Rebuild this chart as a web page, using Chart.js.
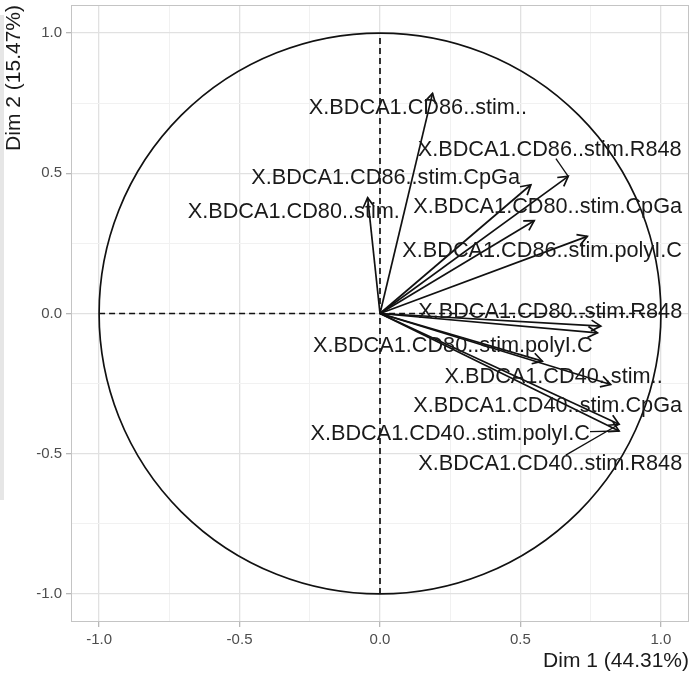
<!DOCTYPE html>
<html>
<head>
<meta charset="utf-8">
<title>PCA - variables</title>
<script src="https://cdn.jsdelivr.net/npm/chart.js@4.4.0/dist/chart.umd.min.js"></script>
<style>
  html, body { margin: 0; padding: 0; background: #fff; }
  #wrap { position: relative; width: 700px; height: 676px; }
  #edge { position: absolute; left: 0; top: 15px; width: 4px; height: 485px; background: #e6e6e6; }
</style>
</head>
<body>
<div id="wrap">
  <canvas id="pcaChart" width="700" height="676"></canvas>
  <div id="edge"></div>
</div>
<script>
    // variables (arrows) of the correlation circle
    const varNames = [
        "X.BDCA1.CD86..stim..",
        "X.BDCA1.CD86..stim.R848",
        "X.BDCA1.CD86..stim.CpGa",
        "X.BDCA1.CD80..stim.",
        "X.BDCA1.CD80..stim.CpGa",
        "X.BDCA1.CD86..stim.polyI.C",
        "X.BDCA1.CD80..stim.R848",
        "X.BDCA1.CD80..stim.polyI.C",
        "X.BDCA1.CD40..stim..",
        "X.BDCA1.CD40..stim.CpGa",
        "X.BDCA1.CD40..stim.polyI.C",
        "X.BDCA1.CD40..stim.R848"
    ];
    const dim1 = [0.187, 0.670, 0.537, -0.044, 0.549, 0.738, 0.786, 0.774, 0.578, 0.821, 0.851, 0.851];
    const dim2 = [0.785, 0.489, 0.459, 0.413, 0.331, 0.275, -0.045, -0.069, -0.170, -0.253, -0.419, -0.395];

    // where the (repelled) labels sit, in the same units
    const labelDim1 = [0.135, 0.604, 0.020, -0.307, 0.597, 0.577, 0.606, 0.259, 0.618, 0.597, 0.250, 0.606];
    const labelDim2 = [0.733, 0.584, 0.484, 0.363, 0.381, 0.221, 0.004, -0.117, -0.228, -0.331, -0.431, -0.537];

    // axis breaks (labels only on the half steps)
    const axisBreaks = [-1, -0.75, -0.5, -0.25, 0, 0.25, 0.5, 0.75, 1];
    const xTitle = "Dim 1 (44.31%)";
    const yTitle = "Dim 2 (15.47%)";

    const family = '"Liberation Sans", Arial, Helvetica, sans-serif';

    function isMajor(v) {
        return Math.abs(v * 2 - Math.round(v * 2)) < 1e-6;
    }

    /** Circulo, flechas, etiquetas y borde del panel */
    const pcaDecor = {
        id: 'pcaDecor',
        beforeDatasetsDraw(chart) {
            const { ctx, chartArea, scales: { x, y } } = chart;
            ctx.save();
            // panel border
            ctx.strokeStyle = '#c4c4c4';
            ctx.lineWidth = 1;
            ctx.strokeRect(chartArea.left + 0.5, chartArea.top + 0.5,
                chartArea.right - chartArea.left - 1, chartArea.bottom - chartArea.top - 1);
            // unit circle
            const cx = x.getPixelForValue(0), cy = y.getPixelForValue(0);
            const rx = x.getPixelForValue(1) - cx, ry = cy - y.getPixelForValue(1);
            ctx.strokeStyle = '#111';
            ctx.lineWidth = 1.7;
            ctx.beginPath();
            ctx.ellipse(cx, cy, rx, ry, 0, 0, Math.PI * 2);
            ctx.stroke();
            ctx.restore();
        },
        afterDatasetsDraw(chart) {
            const { ctx, scales: { x, y } } = chart;
            const ox = x.getPixelForValue(0), oy = y.getPixelForValue(0);
            ctx.save();
            ctx.strokeStyle = '#111';
            ctx.fillStyle = '#1a1a1a';
            ctx.lineWidth = 1.7;

            // arrow heads
            const len = 11, spread = Math.PI / 6;
            dim1.forEach((v, i) => {
                const tx = x.getPixelForValue(v), ty = y.getPixelForValue(dim2[i]);
                const ang = Math.atan2(ty - oy, tx - ox);
                ctx.beginPath();
                ctx.moveTo(tx - len * Math.cos(ang - spread), ty - len * Math.sin(ang - spread));
                ctx.lineTo(tx, ty);
                ctx.lineTo(tx - len * Math.cos(ang + spread), ty - len * Math.sin(ang + spread));
                ctx.stroke();
            });

            // labels + segments when the label was pushed away
            ctx.font = '21.7px ' + family;
            ctx.textAlign = 'center';
            ctx.textBaseline = 'middle';
            ctx.lineWidth = 1.3;
            varNames.forEach((name, i) => {
                const lx = x.getPixelForValue(labelDim1[i]), ly = y.getPixelForValue(labelDim2[i]);
                const px = x.getPixelForValue(dim1[i]), py = y.getPixelForValue(dim2[i]);
                const hw = ctx.measureText(name).width / 2, hh = 9;
                const nx = Math.max(lx - hw, Math.min(px, lx + hw));
                const ny = Math.max(ly - hh, Math.min(py, ly + hh));
                if (Math.hypot(px - nx, py - ny) > 14) {
                    const dx = px - lx, dy = py - ly;
                    const t = Math.min(hw / Math.abs(dx || 1e-9), hh / Math.abs(dy || 1e-9));
                    ctx.beginPath();
                    ctx.moveTo(lx + dx * t, ly + dy * t);
                    ctx.lineTo(px, py);
                    ctx.stroke();
                }
                ctx.fillText(name, lx, ly);
            });
            ctx.restore();
        }
    };

    function generarCirculo() {
        const arrows = dim1.map((v, i) => ({
            label: varNames[i],
            data: [{ x: 0, y: 0 }, { x: v, y: dim2[i] }],
            showLine: true,
            borderColor: '#111',
            borderWidth: 1.7,
            pointRadius: 0
        }));
        const axes = [
            { label: 'h', data: [{ x: -1, y: 0 }, { x: 1, y: 0 }] },
            { label: 'v', data: [{ x: 0, y: -1 }, { x: 0, y: 1 }] }
        ].map(d => Object.assign(d, {
            showLine: true,
            borderColor: '#111',
            borderWidth: 1.7,
            borderDash: [6, 4],
            pointRadius: 0
        }));

        const gridColor = c => isMajor(c.tick.value) ? '#e1e1e1' : '#f1f1f1';
        const tickColor = c => isMajor(c.tick.value) ? '#b8b8b8' : 'rgba(0,0,0,0)';
        const tickFont = { size: 15, family };
        const titleFont = { size: 21, family };

        new Chart(document.getElementById('pcaChart'), {
            type: 'scatter',
            data: { datasets: [...arrows, ...axes] },
            options: {
                responsive: false,
                animation: false,
                events: [],
                layout: { padding: { top: 5, right: 11, left: 0, bottom: 0 } },
                plugins: {
                    legend: { display: false },
                    tooltip: { enabled: false }
                },
                scales: {
                    x: {
                        type: 'linear',
                        min: -1.1,
                        max: 1.1,
                        afterBuildTicks: s => { s.ticks = axisBreaks.map(v => ({ value: v })); },
                        afterFit: s => { s.height = 54; s.paddingLeft = 0; s.paddingRight = 0; },
                        ticks: {
                            autoSkip: false,
                            maxRotation: 0,
                            padding: 4,
                            color: '#4d4d4d',
                            font: tickFont,
                            callback: v => isMajor(v) ? v.toFixed(1) : ''
                        },
                        grid: { color: gridColor, lineWidth: c => isMajor(c.tick.value) ? 1.3 : 1, tickLength: 5, tickColor },
                        border: { display: false },
                        title: { display: true, text: xTitle, align: 'end', color: '#1a1a1a', font: titleFont, padding: { top: 0, bottom: 2 } }
                    },
                    y: {
                        type: 'linear',
                        min: -1.1,
                        max: 1.1,
                        afterBuildTicks: s => { s.ticks = axisBreaks.map(v => ({ value: v })); },
                        afterFit: s => { s.width = 71; s.paddingTop = 0; s.paddingBottom = 0; },
                        ticks: {
                            autoSkip: false,
                            padding: 4,
                            color: '#4d4d4d',
                            font: tickFont,
                            callback: v => isMajor(v) ? v.toFixed(1) : ''
                        },
                        grid: { color: gridColor, lineWidth: c => isMajor(c.tick.value) ? 1.3 : 1, tickLength: 5, tickColor },
                        border: { display: false },
                        title: { display: true, text: yTitle, align: 'end', color: '#1a1a1a', font: titleFont, padding: { top: 2, bottom: 0 } }
                    }
                }
            },
            plugins: [pcaDecor]
        });
    }

    generarCirculo();
</script>
</body>
</html>
